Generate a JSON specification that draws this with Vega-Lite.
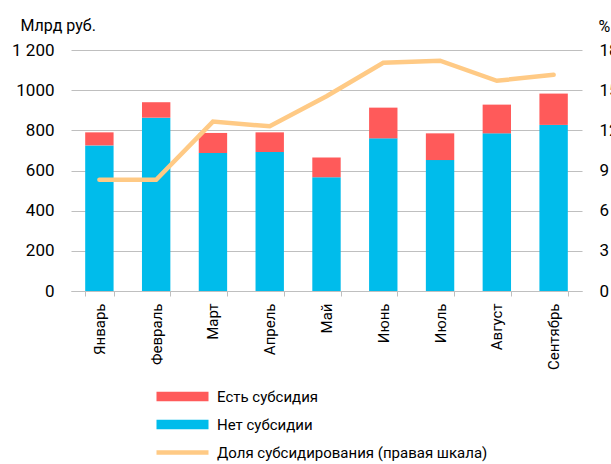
{
  "$schema": "https://vega.github.io/schema/vega-lite/v6.json",
  "autosize": "none",
  "width": 511,
  "height": 241,
  "padding": {"left": 71, "top": 50, "right": 29, "bottom": 173},
  "background": "white",
  "config": {
    "view": {"stroke": null},
    "font": "Roboto",
    "axis": {"labelFont": "Roboto", "titleFont": "Roboto", "labelColor": "#000000", "titleColor": "#000000", "titleFontWeight": "normal"},
    "legend": {"labelFont": "Roboto"}
  },
  "datasets": {
    "bars": [
      {"month": "Январь", "type": "Нет субсидии", "value": 725},
      {"month": "Январь", "type": "Есть субсидия", "value": 65},
      {"month": "Февраль", "type": "Нет субсидии", "value": 863},
      {"month": "Февраль", "type": "Есть субсидия", "value": 77},
      {"month": "Март", "type": "Нет субсидии", "value": 687},
      {"month": "Март", "type": "Есть субсидия", "value": 100},
      {"month": "Апрель", "type": "Нет субсидии", "value": 692},
      {"month": "Апрель", "type": "Есть субсидия", "value": 98},
      {"month": "Май", "type": "Нет субсидии", "value": 567},
      {"month": "Май", "type": "Есть субсидия", "value": 98},
      {"month": "Июнь", "type": "Нет субсидии", "value": 760},
      {"month": "Июнь", "type": "Есть субсидия", "value": 153},
      {"month": "Июль", "type": "Нет субсидии", "value": 652},
      {"month": "Июль", "type": "Есть субсидия", "value": 133},
      {"month": "Август", "type": "Нет субсидии", "value": 785},
      {"month": "Август", "type": "Есть субсидия", "value": 143},
      {"month": "Сентябрь", "type": "Нет субсидии", "value": 827},
      {"month": "Сентябрь", "type": "Есть субсидия", "value": 156}
    ],
    "share": [
      {"month": "Январь", "share": 8.3},
      {"month": "Февраль", "share": 8.3},
      {"month": "Март", "share": 12.65},
      {"month": "Апрель", "share": 12.3},
      {"month": "Май", "share": 14.55},
      {"month": "Июнь", "share": 17.05},
      {"month": "Июль", "share": 17.2},
      {"month": "Август", "share": 15.7},
      {"month": "Сентябрь", "share": 16.15}
    ]
  },
  "encoding": {
    "x": {
      "field": "month",
      "type": "nominal",
      "sort": ["Январь", "Февраль", "Март", "Апрель", "Май", "Июнь", "Июль", "Август", "Сентябрь"],
      "scale": {"paddingInner": 0.5, "paddingOuter": 0.25},
      "axis": {
        "title": null,
        "labelAngle": -90,
        "labelAlign": "right",
        "labelBaseline": "middle",
        "labelFontSize": 15,
        "labelPadding": 7,
        "domainColor": "#BFBFBF",
        "tickColor": "#BFBFBF",
        "tickSize": 5,
        "tickBand": "extent",
        "grid": false
      }
    }
  },
  "layer": [
    {
      "data": {"name": "bars"},
      "mark": {"type": "bar"},
      "encoding": {
        "y": {
          "field": "value",
          "type": "quantitative",
          "stack": "zero",
          "scale": {"domain": [0, 1200], "nice": false},
          "axis": {
            "orient": "left",
            "title": "Млрд руб.",
            "titleAngle": 0,
            "titleAlign": "left",
            "titleBaseline": "alphabetic",
            "titleX": -51,
            "titleY": -20,
            "titleFontSize": 16,
            "values": [0, 200, 400, 600, 800, 1000, 1200],
            "format": "d",
            "labelExpr": "datum.value === 1200 ? '1 200' : format(datum.value, 'd')",
            "labelFontSize": 17,
            "labelPadding": 17,
            "domain": false,
            "ticks": false,
            "grid": true,
            "gridColor": "#BFBFBF",
            "gridWidth": 1
          }
        },
        "color": {
          "field": "type",
          "type": "nominal",
          "scale": {
            "domain": ["Есть субсидия", "Нет субсидии", "Доля субсидирования (правая шкала)"],
            "range": ["#FF5A5A", "#00BCEB", "#FFCA85"]
          },
          "legend": {
            "orient": "none",
            "legendX": 104,
            "legendY": 339,
            "title": null,
            "direction": "vertical",
            "labelFontSize": 15,
            "labelColor": "#000000",
            "labelOffset": 27,
            "labelLimit": 0,
            "rowPadding": 12,
            "symbolSize": 100,
            "symbolType": "M-5.2,-0.95H5.2V0.95H-5.2Z",
            "symbolStrokeWidth": 0,
            "encode": {
              "symbols": {
                "update": {
                  "shape": {"signal": "datum.value === 'Доля субсидирования (правая шкала)' ? 'M-5.2,-0.46H5.2V0.46H-5.2Z' : 'M-5.2,-0.95H5.2V0.95H-5.2Z'"},
                  "fill": {"scale": "color", "field": "value"},
                  "stroke": {"value": "transparent"},
                  "opacity": {"value": 1},
                  "fillOpacity": {"value": 1}
                }
              }
            }
          }
        },
        "order": {"field": "type", "sort": "descending"}
      }
    },
    {
      "data": {"name": "share"},
      "mark": {"type": "line", "strokeWidth": 4.5, "strokeCap": "round", "strokeJoin": "miter"},
      "encoding": {
        "y": {
          "field": "share",
          "type": "quantitative",
          "scale": {"domain": [0, 18], "nice": false},
          "axis": {
            "orient": "right",
            "title": "%",
            "titleAngle": 0,
            "titleAlign": "left",
            "titleBaseline": "alphabetic",
            "titleX": 16,
            "titleY": -19,
            "titleFontSize": 16,
            "values": [0, 3, 6, 9, 12, 15, 18],
            "labelFontSize": 17,
            "labelPadding": 17,
            "domain": false,
            "ticks": false,
            "grid": false
          }
        },
        "color": {"datum": "Доля субсидирования (правая шкала)"}
      }
    }
  ],
  "resolve": {"scale": {"y": "independent"}}
}
